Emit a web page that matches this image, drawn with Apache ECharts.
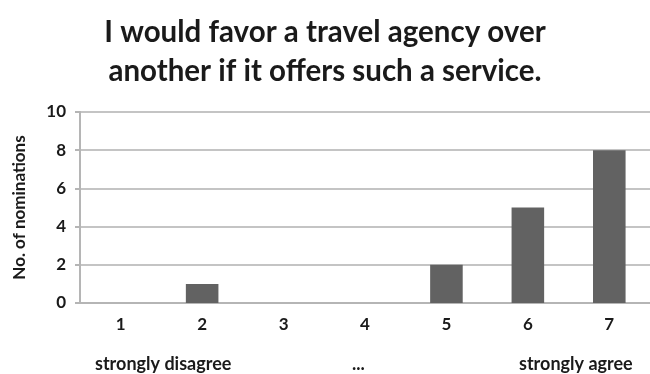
<!DOCTYPE html>
<html>
<head>
<meta charset="utf-8">
<script src="https://cdn.jsdelivr.net/npm/echarts@6/dist/echarts.min.js"></script>
<style>
    html, body { margin: 0; padding: 0; background: #fff; }
    #favorChart { width: 650px; height: 374px; }
</style>
</head>
<body>
<div id="favorChart"></div>
<script>
    // scale points and number of nominations
    const categories = ['1', '2', '3', '4', '5', '6', '7']
    const nominations = [0, 1, 0, 0, 2, 5, 8]
    const scaleNotes = ['strongly disagree', '...', 'strongly agree']

    const chart = echarts.init(document.getElementById('favorChart'))
    const font = 'Lato, "Open Sans", sans-serif'

    const option = {
        animation: false,
        title: {
            text: 'I would favor a travel agency over\nanother if it offers such a service.',
            left: 'center',
            top: 8,
            textStyle: {
                fontFamily: font,
                fontWeight: 'bold',
                fontSize: 29.5,
                lineHeight: 39,
                color: '#1a1a1a'
            }
        },
        grid: {
            left: 80,
            right: 0,
            top: 112,
            bottom: 71
        },
        xAxis: {
            type: 'category',
            data: categories,
            axisLine: { lineStyle: { color: '#b5b5b5', width: 2 } },
            axisTick: { show: false },
            axisLabel: {
                margin: 13,
                fontFamily: font,
                fontWeight: 'bold',
                fontSize: 17,
                color: '#1a1a1a'
            }
        },
        yAxis: {
            type: 'value',
            min: 0,
            max: 10,
            interval: 2,
            name: 'No. of nominations',
            nameLocation: 'middle',
            nameGap: 52,
            nameTextStyle: {
                fontFamily: font,
                fontWeight: 'bold',
                fontSize: 17,
                color: '#1a1a1a'
            },
            axisLine: { show: true, lineStyle: { color: '#b5b5b5', width: 2 } },
            axisTick: { show: true, length: 5, lineStyle: { color: '#b5b5b5', width: 2 } },
            splitLine: { lineStyle: { color: '#c4c4c4', width: 2 } },
            axisLabel: {
                margin: 14,
                fontFamily: font,
                fontWeight: 'bold',
                fontSize: 17,
                color: '#1a1a1a'
            }
        },
        graphic: [
            { type: 'text', left: 95, top: 355, style: { text: scaleNotes[0], font: 'bold 18px ' + font, fill: '#1a1a1a' } },
            { type: 'text', left: 352, top: 355, style: { text: scaleNotes[1], font: 'bold 18px ' + font, fill: '#1a1a1a' } },
            { type: 'text', left: 519, top: 355, style: { text: scaleNotes[2], font: 'bold 18px ' + font, fill: '#1a1a1a' } }
        ],
        series: [
            {
                type: 'bar',
                data: nominations,
                barWidth: '40%',
                itemStyle: { color: '#626262' }
            }
        ]
    }

    chart.setOption(option)
    window.addEventListener('resize', () => chart.resize())
</script>
</body>
</html>
